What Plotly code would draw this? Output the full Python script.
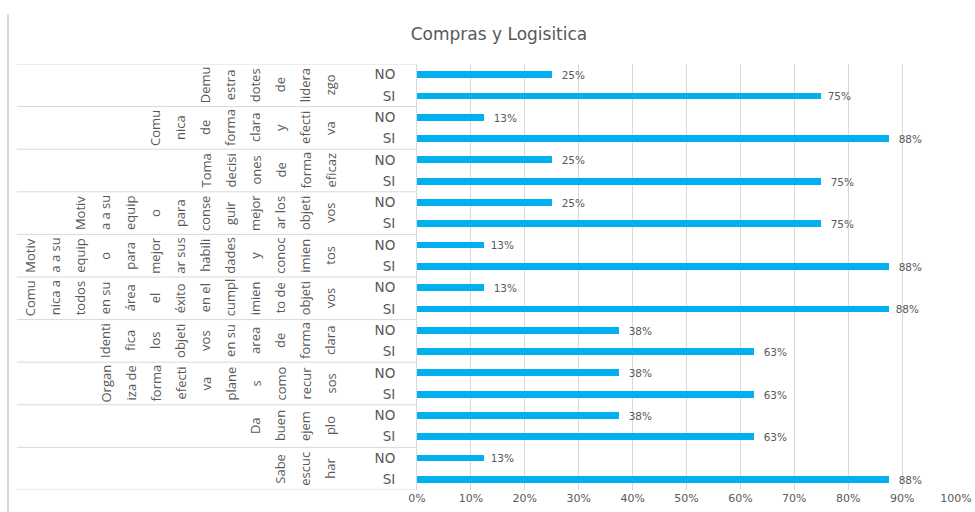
import plotly.graph_objects as go

# ---------------- data ----------------
title = "Compras y Logisitica"
# category labels, as wrapped (one entry per wrapped line)
category_lines = [
    ["Demu", "estra", "dotes", "de", "lidera", "zgo"],
    ["Comu", "nica", "de", "forma", "clara", "y", "efecti", "va"],
    ["Toma", "decisi", "ones", "de", "forma", "eficaz"],
    ["Motiv", "a a su", "equip", "o", "para", "conse", "guir", "mejor", "ar los", "objeti", "vos"],
    ["Motiv", "a a su", "equip", "o", "para", "mejor", "ar sus", "habili", "dades", "y", "conoc", "imien", "tos"],
    ["Comu", "nica a", "todos", "en su", "área", "el", "éxito", "en el", "cumpl", "imien", "to de", "objeti", "vos"],
    ["Identi", "fica", "los", "objeti", "vos", "en su", "area", "de", "forma", "clara"],
    ["Organ", "iza de", "forma", "efecti", "va", "plane", "s", "como", "recur", "sos"],
    ["Da", "buen", "ejem", "plo"],
    ["Sabe", "escuc", "har"],
]
responses = ["NO", "SI"]
no_values = [0.25, 0.125, 0.25, 0.25, 0.125, 0.125, 0.375, 0.375, 0.375, 0.125]
si_values = [0.75, 0.875, 0.75, 0.75, 0.875, 0.875, 0.625, 0.625, 0.625, 0.875]
x_ticks = [0, 0.1, 0.2, 0.3, 0.4, 0.5, 0.6, 0.7, 0.8, 0.9, 1.0]

# ---------------- build ----------------
FONT = "Open Sans"
WFONT = "DejaVu Sans"
GREY = "#595959"
BAR = "#00B0F0"

ys, xs, tickvals, ticktext = [], [], [], []
for g in range(len(category_lines)):
    for r, vals in enumerate([no_values, si_values]):
        idx = g * 2 + r
        ys.append(idx)
        xs.append(vals[g])
        tickvals.append(idx)
        ticktext.append(responses[r])

fig = go.Figure()
fig.add_trace(go.Bar(
    x=xs, y=ys, orientation="h",
    marker=dict(color=BAR, line=dict(width=0)),
    width=0.32,
    texttemplate="\u00a0\u00a0%{x:.0%}",
    textposition="outside",
    constraintext="none",
    textfont=dict(family=WFONT, size=10.5, color=GREY),
    cliponaxis=False,
    hoverinfo="skip",
))

L, R, T, B = 417, 19, 64, 22
W, H = 975, 512
pw = W - L - R
ph = H - T - B

def px2paper_x(px):
    return (px - L) / pw

def px2paper_y(py):
    return (H - B - py) / ph

shapes = []
n_groups = len(category_lines)
# group separators (category label area)
for g in range(n_groups + 1):
    yb = g * 2 - 0.5
    shapes.append(dict(type="line", xref="paper", yref="y",
                       x0=px2paper_x(17), x1=0, y0=yb, y1=yb,
                       line=dict(color="#d9d9d9", width=1)))
# left chart border
shapes.append(dict(type="line", xref="paper", yref="paper",
                   x0=px2paper_x(8), x1=px2paper_x(8),
                   y0=px2paper_y(14), y1=px2paper_y(515),
                   line=dict(color="#d9d9d9", width=2)))

annotations = []
last_col_px = 330
col_step = 25
for g, lines in enumerate(category_lines):
    n = len(lines)
    yc = g * 2 + 0.5
    for i, t in enumerate(lines):
        xpx = last_col_px - (n - 1 - i) * col_step
        annotations.append(dict(
            text=t, xref="paper", yref="y",
            x=px2paper_x(xpx), y=yc,
            xanchor="center", yanchor="middle",
            textangle=-90, showarrow=False,
            font=dict(family=FONT, size=13, color=GREY),
        ))

fig.update_layout(
    width=W, height=H,
    margin=dict(l=L, r=R, t=T, b=B, pad=0, autoexpand=False),
    paper_bgcolor="white", plot_bgcolor="white",
    showlegend=False,
    title=dict(text=title, x=499 / W, xref="container", xanchor="center",
               y=1 - 34 / H, yref="container", yanchor="middle",
               font=dict(family=WFONT, size=17, color=GREY)),
    xaxis=dict(range=[0, 1.0], tickvals=x_ticks, tickformat=".0%",
               showgrid=True, gridcolor="#d9d9d9", gridwidth=1,
               zeroline=False, showline=False, ticks="",
               automargin=False,
               tickfont=dict(family=WFONT, size=11, color=GREY),
               fixedrange=True),
    yaxis=dict(range=[len(ys) - 0.5, -0.5], tickvals=tickvals, ticktext=ticktext,
               showgrid=False, zeroline=False, showline=True,
               linecolor="#d9d9d9", linewidth=1, ticks="",
               automargin=False,
               ticklabelstandoff=18,
               tickfont=dict(family=WFONT, size=13.5, color=GREY),
               fixedrange=True),
    shapes=shapes,
    annotations=annotations,
    bargap=0,
)

fig.write_html("out.html",
               config={"displayModeBar": False},
               post_script="document.body.style.margin='0';document.body.style.overflow='hidden';")
